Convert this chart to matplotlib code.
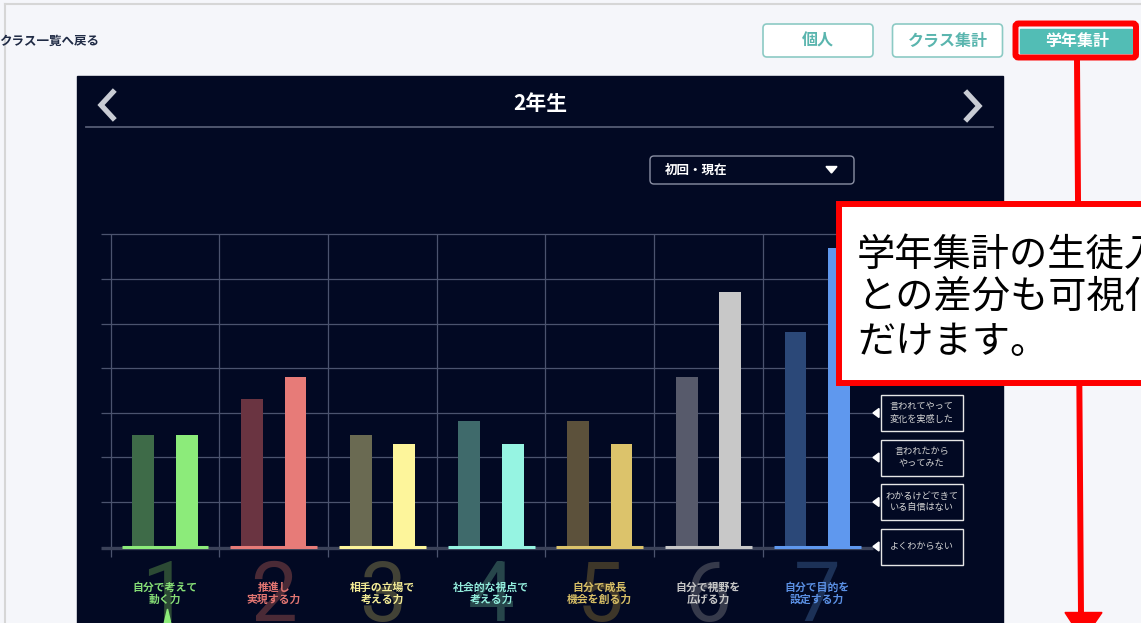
import matplotlib
matplotlib.use('Agg')
import matplotlib.pyplot as plt
from matplotlib.patches import Rectangle, FancyBboxPatch, Polygon
import numpy as np

# Chart data.
categories = ['自分で考えて\n動く力', '推進し\n実現する力', '相手の立場で\n考える力',
              '社会的な視点で\n考える力', '自分で成長\n機会を創る力', '自分で視野を\n広げる力',
              '自分で目的を\n設定する力']
numbers = ['1', '2', '3', '4', '5', '6', '7']
first_values = [2.5, 3.3, 2.5, 2.8, 2.8, 3.8, 4.8]
current_values = [2.5, 3.8, 2.3, 2.3, 2.3, 5.7, 6.7]
level_labels = ['よくわからない', 'わかるけどできて\nいる自信はない', '言われたから\nやってみた', '言われてやって\n変化を実感した']
level_values = [0, 1, 2, 3]
grid_levels = [1, 2, 3, 4, 5, 6, 7]

bright_colors = ['#8ceb7a', '#e77b78', '#fdf59b', '#96f4e2', '#dcc36b', '#c8c8c8', '#5f98ee']
dark_colors = ['#3e6b48', '#6a3441', '#6a6a52', '#3f6a6b', '#5c513b', '#575a6b', '#2b4878']
label_colors = ['#86de76', '#e37672', '#f4ec96', '#92ecdc', '#d8bf66', '#c6c6c6', '#5b90e4']
digit_colors = ['#2c4a34', '#4a2a36', '#424236', '#27464b', '#3d3629', '#363a4b', '#1c3157']

PANEL = '#020923'
GRID = '#4b536e'
BASE = '#3b4259'
TEAL = '#52bdb5'
RED = '#ff0000'

W, H = 1141, 623
plt.rcParams['font.family'] = ['Noto Sans CJK JP', 'DejaVu Sans']

fig = plt.figure(figsize=(W / 100, H / 100), dpi=100)
fig.patch.set_facecolor('#f5f6fa')


# Full-figure axes in pixel units for the page decorations.
def pixelAxes(z):
    a = fig.add_axes([0, 0, 1, 1], zorder=z)
    a.set_xlim(0, W)
    a.set_ylim(H, 0)
    a.axis('off')
    return a


bg = pixelAxes(0)
bg.plot([5, W], [4, 4], color='#d6d6d6', lw=1.5)
bg.plot([5, 5], [4, H], color='#d6d6d6', lw=1.5)
bg.add_patch(Rectangle((77, 76), 926, 560, color=PANEL))

# Chart axes: category centres every 108.7 px, one level every 44.5 px.
X0, DX = 165, 108.7
Y0, DY = 546, 44.5
left_px, right_px, top_px, bot_px = 101, 874, 228, 562
ax = fig.add_axes([left_px / W, (H - bot_px) / H, (right_px - left_px) / W, (bot_px - top_px) / H], zorder=1)
ax.set_xlim((left_px - X0) / DX, (right_px - X0) / DX)
ax.set_ylim((Y0 - bot_px) / DY, (Y0 - top_px) / DY)
ax.axis('off')

x = np.arange(len(categories))
xmin, xmax = ax.get_xlim()
ax.hlines(grid_levels, xmin, (873 - X0) / DX, color=GRID, lw=0.9, zorder=1)
ax.vlines(x - 0.5, -0.25, 7, color=GRID, lw=0.9, zorder=1)
ax.hlines(-0.04, xmin, (873 - X0) / DX, color=BASE, lw=2.4, zorder=1)

ax.bar(x - 0.2, first_values, width=0.2, color=dark_colors, zorder=2)
ax.bar(x + 0.2, current_values, width=0.2, color=bright_colors, zorder=2)
ax.hlines(np.full(len(x), -0.015), x - 0.4, x + 0.4, colors=bright_colors, lw=2.2, zorder=3)

# Big faint numbers and the category names below the axis.
for i in range(len(categories)):
    ax.text(x[i], (Y0 - 621) / DY, numbers[i], color=digit_colors[i], fontsize=60,
            family='Roboto', ha='center', va='baseline', clip_on=False, zorder=1)
    ax.text(x[i], (Y0 - 593.5) / DY, categories[i], color=label_colors[i], fontsize=7.8,
            fontweight='bold', ha='center', va='center', linespacing=1.25, clip_on=False, zorder=4)

fg = pixelAxes(3)

# Selected-category pointer.
fg.add_patch(Polygon([(167.5, 609), (164, 624), (171, 624)], color=bright_colors[0]))

# Header of the panel.
fg.text(540, 103, '2年生', color='white', fontsize=15, fontweight='bold', ha='center', va='center')
fg.plot([86, 993], [126.5, 126.5], color='#555b73', lw=1.3)
fg.plot([113, 101, 113], [92, 105, 118], color='#c9ccd4', lw=3.8, solid_joinstyle='miter')
fg.plot([967, 979, 967], [93, 106, 119], color='#c9ccd4', lw=3.8, solid_joinstyle='miter')

# Dropdown.
fg.add_patch(FancyBboxPatch((650, 156), 204, 28, boxstyle='round,pad=0,rounding_size=4',
                            facecolor=PANEL, edgecolor='#8a8fa3', lw=1))
fg.text(665, 170, '初回・現在', color='white', fontsize=9, fontweight='bold', ha='left', va='center')
fg.add_patch(Polygon([(826, 166.5), (837, 166.5), (831.5, 173)], color='white'))

# Legend boxes pointing at the levels.
for lv, lab in zip(level_values, level_labels):
    yc = Y0 - lv * DY + 0.5
    fg.add_patch(Rectangle((880.5, yc - 18), 82, 36, facecolor=PANEL, edgecolor='#e6e6e6', lw=1))
    fg.add_patch(Polygon([(873, yc), (879, yc - 4.5), (879, yc + 4.5)], color='white'))
    fg.text(921.5, yc, lab, color='#d4d4d4', fontsize=6.6, ha='center', va='center', linespacing=1.4)

# Page controls.
fg.text(-1, 41.5, 'クラス一覧へ戻る', color='#1f2a44', fontsize=9, fontweight='bold',
        ha='left', va='center', clip_on=True)
for (bx, lab) in [(763, '個人'), (892.5, 'クラス集計')]:
    fg.add_patch(FancyBboxPatch((bx, 24), 110, 33, boxstyle='round,pad=0,rounding_size=4',
                                facecolor='white', edgecolor='#8ccac4', lw=1.2))
    fg.text(bx + 55, 41, lab, color='#5ab5ae', fontsize=11.5, fontweight='bold', ha='center', va='center')
fg.add_patch(Rectangle((1020, 29), 112, 24, color=TEAL))
fg.text(1077, 41, '学年集計', color='white', fontsize=11.5, fontweight='bold', ha='center', va='center')

# Red annotation: frame, arrow and callout (callout sits above the arrow line).
fg.add_patch(FancyBboxPatch((1015.5, 23.5), 120.5, 34, boxstyle='round,pad=0,rounding_size=3',
                            facecolor='none', edgecolor=RED, lw=4.3, zorder=3))
fg.plot([1077, 1081], [60, 614], color=RED, lw=4.3, solid_capstyle='butt', zorder=3)
fg.add_patch(Polygon([(1065, 612.5), (1102, 612.5), (1083, 640)], color=RED, zorder=3))
fg.add_patch(Rectangle((839, 204), 320, 179, facecolor='white', edgecolor=RED, lw=4.3, zorder=5))
for yy, line in zip([255, 297, 342], ['学年集計の生徒入', 'との差分も可視化', 'だけます。']):
    fg.text(857, yy, line, color='black', fontsize=27.5, ha='left', va='center', clip_on=True, zorder=6)

fig.savefig('out.png', dpi=100, facecolor=fig.get_facecolor())
